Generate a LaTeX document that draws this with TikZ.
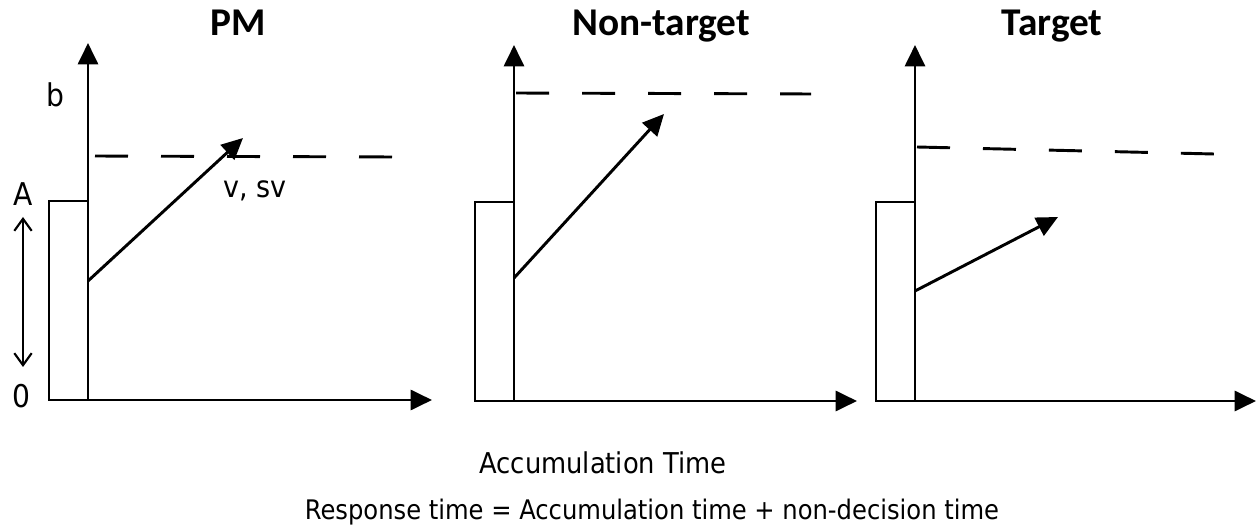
\documentclass[tikz,border=0pt]{standalone}
\usepackage{fontspec}
\setmainfont{DejaVu Sans Condensed}
\newfontfamily\titlefont{Carlito}
\usetikzlibrary{arrows.meta}
\begin{document}
\begin{tikzpicture}[x=0.75pt,y=-0.75pt, line width=2.2pt,
  axis/.style={-{Triangle[length=16pt,width=15pt]}},
  rate/.style={-{Triangle[length=16pt,width=15pt]}},
  thr/.style={dash pattern=on 24.75pt off 24.75pt},
  box/.style={line width=2pt},
  spanarrow/.style={line width=1.6pt,{Straight Barb[length=9pt,width=13pt]}-{Straight Barb[length=9pt,width=13pt]}},
  lab/.style={font=\fontsize{23.5}{23.5}\selectfont, inner sep=0pt, anchor=base},
  rlab/.style={font=\fontsize{22.5}{22.5}\selectfont, inner sep=0pt, anchor=base west},
  ttl/.style={font=\titlefont\bfseries\fontsize{29.5}{29.5}\selectfont, inner sep=0pt, anchor=base},
  captext/.style={inner sep=0pt, anchor=base},
]
\useasboundingbox (0,0) rectangle (1257,527);

% ---------- Panel 1: PM ----------
\coordinate (o1) at (88,400);
\coordinate (yt1) at (88,43);
\coordinate (xt1) at (432,400);
\coordinate (s1) at (88,281);
\coordinate (e1) at (243,138);
\coordinate (da1) at (95,156);
\coordinate (db1) at (393,157);
\draw[box] (49,201) rectangle (o1);
\draw[axis] (o1) -- (yt1);
\draw[axis] (o1) -- (xt1);
\draw[thr] (da1) -- (db1);
\draw[rate] (s1) -- (e1);
\node[ttl] (t1) at (238,36) {PM};
\node[lab] (lb) at (55,107) {b};
\node[lab] (lA) at (23.5,206) {A};
\node[lab] (l0) at (21,407) {0};
\node[rlab] (lv) at (222,198) {v, sv};
\coordinate (ra) at (23,217);
\coordinate (rb) at (23,367);
\draw[spanarrow] (ra) -- (rb);

% ---------- Panel 2: Non-target ----------
\coordinate (o2) at (514,401);
\coordinate (yt2) at (514,45);
\coordinate (xt2) at (857,401);
\coordinate (s2) at (514,278);
\coordinate (e2) at (664,114);
\coordinate (da2) at (516,93);
\coordinate (db2) at (811,94);
\draw[box] (475,202) rectangle (o2);
\draw[axis] (o2) -- (yt2);
\draw[axis] (o2) -- (xt2);
\draw[thr] (da2) -- (db2);
\draw[rate] (s2) -- (e2);
\node[ttl] (t2) at (661,36) {Non-target};

% ---------- Panel 3: Target ----------
\coordinate (o3) at (915,401);
\coordinate (yt3) at (915,45);
\coordinate (xt3) at (1256,401);
\coordinate (s3) at (915,291);
\coordinate (e3) at (1058,217);
\coordinate (da3) at (917,147);
\coordinate (db3) at (1214,154);
\draw[box] (876,202) rectangle (o3);
\draw[axis] (o3) -- (yt3);
\draw[axis] (o3) -- (xt3);
\draw[thr] (da3) -- (db3);
\draw[rate] (s3) -- (e3);
\node[ttl] (t3) at (1052,36) {Target};

% ---------- captions ----------
\node[captext, font=\fontsize{21.5}{21.5}\selectfont] (c1) at (603,473) {Accumulation Time};
\node[captext, font=\fontsize{20.2}{20.2}\selectfont] (c2) at (652,519) {Response time = Accumulation time + non-decision time};
\end{tikzpicture}
\end{document}
